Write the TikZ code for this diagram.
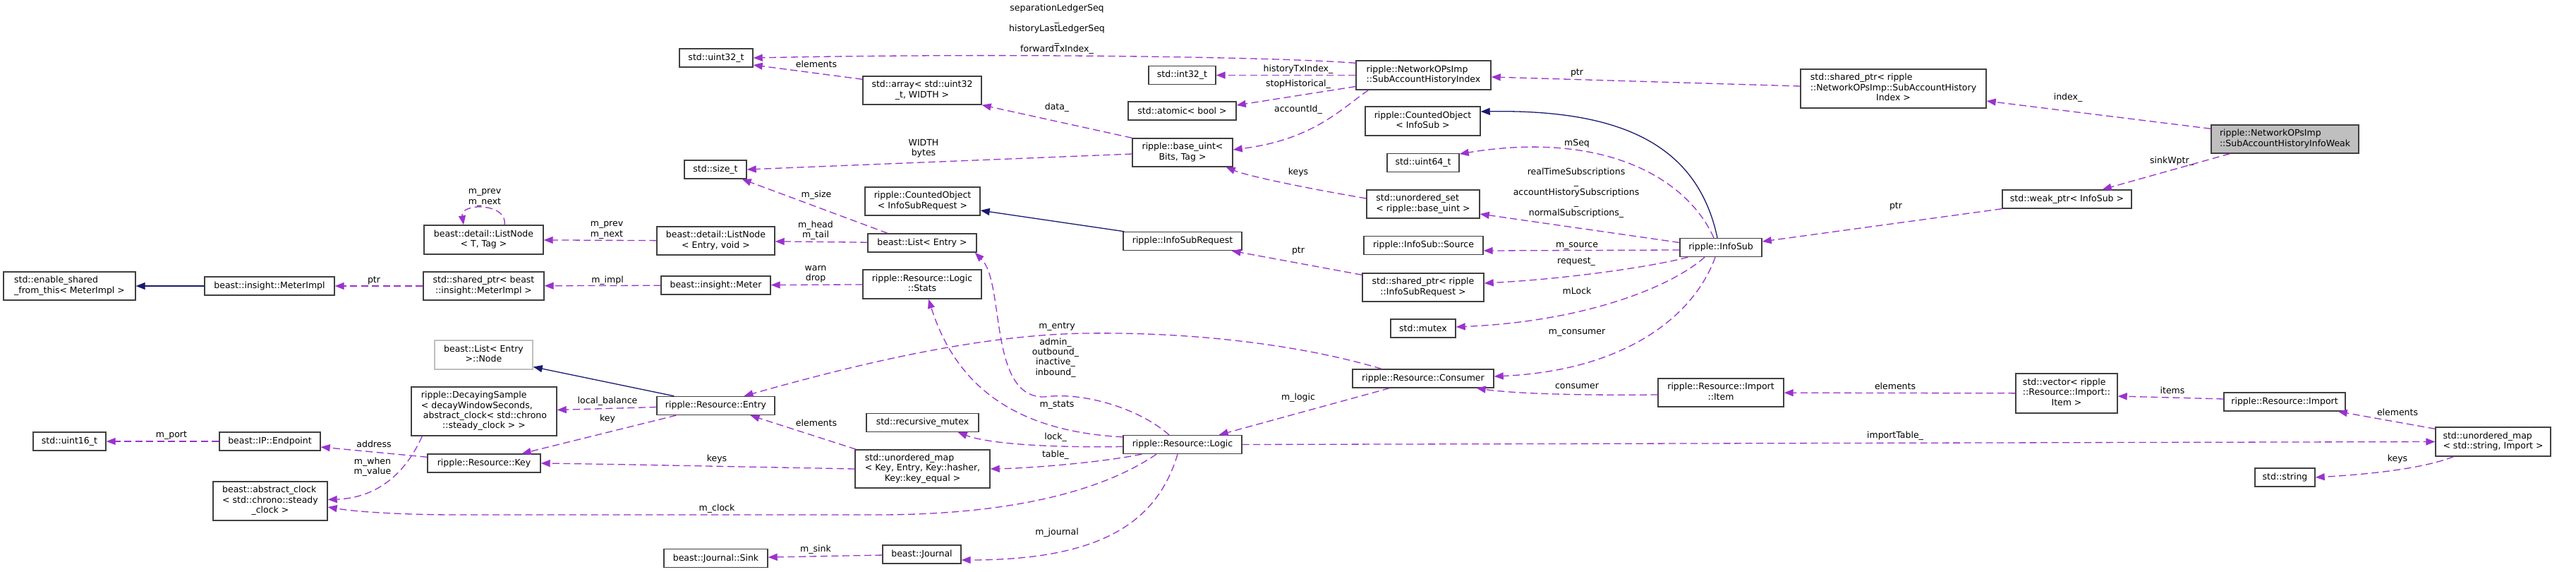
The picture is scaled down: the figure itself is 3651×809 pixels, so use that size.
\documentclass[tikz,border=0pt]{standalone}
\usepackage{fontspec}
\setmainfont{DejaVu Sans}
\usetikzlibrary{arrows.meta,calc}
\definecolor{epurple}{HTML}{9A32CD}
\definecolor{eblue}{HTML}{191970}
\definecolor{bgray}{HTML}{404040}
\definecolor{lgray}{HTML}{BFBFBF}
\newcommand{\fsz}{\fontsize{12.5pt}{14.4pt}\selectfont}
\newcommand{\mlines}[2]{\begin{tabular}{@{}l@{}}#1\\\multicolumn{1}{@{}c@{}}{#2}\end{tabular}}
\tikzset{
  box/.style={draw=bgray, line width=1.4pt, fill=white, inner xsep=4pt, inner ysep=2pt, font=\fsz},
  lbl/.style={font=\fsz, align=center, inner sep=0pt},
  mem/.style={draw=epurple, line width=1.3pt, dash pattern=on 10pt off 5.5pt, -{Triangle[length=13pt,width=10pt,fill=epurple]}},
  inh/.style={draw=eblue, line width=1.3pt, -{Triangle[length=13pt,width=10pt,fill=eblue]}}
}
\begin{document}
\begin{tikzpicture}[x=1pt,y=-1pt]
\useasboundingbox (0,0) rectangle (3651,809);
% ---------------- nodes ----------------
\node[box, minimum width=187pt, minimum height=40pt] (esft) at (98.5,405) {\mlines{std::enable\_shared}{\_from\_this< MeterImpl >}};
\node[box, minimum width=184pt, minimum height=26pt] (meterimpl) at (382,405) {beast::insight::MeterImpl};
\node[box, minimum width=169pt, minimum height=41pt] (lnT) at (685.5,339.5) {\mlines{beast::detail::ListNode}{< T, Tag >}};
\node[box, minimum width=171pt, minimum height=40pt] (spMI) at (685.5,405) {\mlines{std::shared\_ptr< beast}{::insight::MeterImpl >}};
\node[box, draw=lgray, minimum width=139pt, minimum height=41pt] (lnode) at (685.5,502.5) {\mlines{beast::List< Entry}{>::Node}};
\node[box, minimum width=206pt, minimum height=69pt] (decay) at (686,582.5) {\mlines{ripple::DecayingSample\\< decayWindowSeconds,\\\hspace*{3pt}abstract\_clock< std::chrono}{::steady\_clock > >}};
\node[box, minimum width=103pt, minimum height=26pt] (u16) at (98.5,625) {std::uint16\_t};
\node[box, minimum width=143pt, minimum height=26pt] (endpoint) at (382.5,625) {beast::IP::Endpoint};
\node[box, minimum width=160pt, minimum height=26pt] (key) at (686,656) {ripple::Resource::Key};
\node[box, minimum width=162pt, minimum height=55pt] (aclock) at (383,709.5) {\mlines{beast::abstract\_clock\\< std::chrono::steady}{\_clock >}};
\node[box, minimum width=104pt, minimum height=26pt] (u32) at (1015,82) {std::uint32\_t};
\node[box, minimum width=168pt, minimum height=40pt] (array) at (1307,128) {\mlines{std::array< std::uint32}{\_t, WIDTH >}};
\node[box, minimum width=95pt, minimum height=26pt] (i32) at (1675.5,106.5) {std::int32\_t};
\node[box, minimum width=153pt, minimum height=26pt] (atomic) at (1675.5,157) {std::atomic< bool >};
\node[box, minimum width=142pt, minimum height=40pt] (baseuint) at (1676,216) {\mlines{ripple::base\_uint<}{Bits, Tag >}};
\node[box, minimum width=88pt, minimum height=26pt] (sizet) at (1014,240) {std::size\_t};
\node[box, minimum width=163pt, minimum height=40pt] (coIS) at (1307.5,285) {\mlines{ripple::CountedObject}{< InfoSubRequest >}};
\node[box, minimum width=167pt, minimum height=40pt] (lnE) at (1014.5,341) {\mlines{beast::detail::ListNode}{< Entry, void >}};
\node[box, minimum width=154pt, minimum height=26pt] (list) at (1307,344) {beast::List< Entry >};
\node[box, minimum width=168pt, minimum height=26pt] (isreq) at (1676,341.5) {ripple::InfoSubRequest};
\node[box, minimum width=155pt, minimum height=26pt] (meter) at (1014.5,404) {beast::insight::Meter};
\node[box, minimum width=168pt, minimum height=41pt] (stats) at (1307,402.5) {\mlines{ripple::Resource::Logic}{::Stats}};
\node[box, minimum width=167pt, minimum height=26pt] (entry) at (1014.5,574.5) {ripple::Resource::Entry};
\node[box, minimum width=159pt, minimum height=26pt] (rmutex) at (1307.5,598.5) {std::recursive\_mutex};
\node[box, minimum width=168pt, minimum height=26pt] (logic) at (1676,629.5) {ripple::Resource::Logic};
\node[box, minimum width=191pt, minimum height=54pt] (umapK) at (1307.5,664) {\mlines{std::unordered\_map\\< Key, Entry, Key::hasher,}{Key::key\_equal >}};
\node[box, minimum width=147pt, minimum height=26pt] (sink) at (1014.5,790.5) {beast::Journal::Sink};
\node[box, minimum width=111pt, minimum height=26pt] (journal) at (1306.5,785) {beast::Journal};
\node[box, minimum width=191pt, minimum height=41pt] (sahi) at (2017.5,106.5) {\mlines{ripple::NetworkOPsImp}{::SubAccountHistoryIndex}};
\node[box, minimum width=263pt, minimum height=55pt] (spSAHI) at (2683.5,125.5) {\mlines{std::shared\_ptr< ripple\\::NetworkOPsImp::SubAccountHistory}{Index >}};
\node[box, minimum width=163pt, minimum height=41pt] (coInfoSub) at (2016.5,171.5) {\mlines{ripple::CountedObject}{< InfoSub >}};
\node[box, minimum width=102pt, minimum height=26pt] (u64) at (2017,230.5) {std::uint64\_t};
\node[box, minimum width=160pt, minimum height=40pt] (uset) at (2017,289) {\mlines{std::unordered\_set}{< ripple::base\_uint >}};
\node[box, minimum width=169pt, minimum height=26pt] (source) at (2017.5,347.5) {ripple::InfoSub::Source};
\node[box, minimum width=116pt, minimum height=26pt] (infosub) at (2439,350.5) {ripple::InfoSub};
\node[box, minimum width=172pt, minimum height=40pt] (spISR) at (2017,407) {\mlines{std::shared\_ptr< ripple}{::InfoSubRequest >}};
\node[box, minimum width=92pt, minimum height=26pt] (mutex) at (2017,465) {std::mutex};
\node[box, minimum width=200pt, minimum height=26pt] (consumer) at (2017,536) {ripple::Resource::Consumer};
\node[box, minimum width=178pt, minimum height=40pt] (item) at (2439,556) {\mlines{ripple::Resource::Import}{::Item}};
\node[box, fill=lgray, minimum width=209pt, minimum height=40pt] (infoweak) at (3238.5,197) {\mlines{ripple::NetworkOPsImp}{::SubAccountHistoryInfoWeak}};
\node[box, minimum width=183pt, minimum height=26pt] (weakptr) at (2929.5,282) {std::weak\_ptr< InfoSub >};
\node[box, minimum width=144pt, minimum height=56pt] (vector) at (2929,557) {\mlines{std::vector< ripple\\::Resource::Import::}{Item >}};
\node[box, minimum width=172pt, minimum height=26pt] (import) at (3238,569) {ripple::Resource::Import};
\node[box, minimum width=163pt, minimum height=41pt] (umapS) at (3533.5,625.5) {\mlines{std::unordered\_map}{< std::string, Import >}};
\node[box, minimum width=85pt, minimum height=26pt] (string) at (3238.5,676) {std::string};
% ---------------- labels ----------------
\node[lbl] (lptr1) at (530,397) {ptr};
\node[lbl] (lloop) at (687,280) {m\_prev\\m\_next};
\node[lbl] (lprev) at (860,326) {m\_prev\\m\_next};
\node[lbl] (limpl) at (861,397) {m\_impl};
\node[lbl] (lport) at (243,617) {m\_port};
\node[lbl] (laddr) at (530,629) {address};
\node[lbl] (lwhen) at (528,661) {m\_when\\m\_value};
\node[lbl] (llocal) at (861,568) {local\_balance};
\node[lbl] (lkey) at (861,593) {key};
\node[lbl] (lclock) at (1016,720) {m\_clock};
\node[lbl] (lkeys1) at (1016,650) {keys};
\node[lbl] (lseq) at (1498,41.5) {separationLedgerSeq\\\_\\historyLastLedgerSeq\\\_\\forwardTxIndex\_};
\node[lbl] (lelem1) at (1157,91) {elements};
\node[lbl] (ldata) at (1498,152) {data\_};
\node[lbl] (lwidth) at (1309,210.5) {WIDTH\\bytes};
\node[lbl] (lsize) at (1157,276) {m\_size};
\node[lbl] (lhead) at (1156,326) {m\_head\\m\_tail};
\node[lbl] (lwarn) at (1156,388) {warn\\drop};
\node[lbl] (lentry) at (1498,463) {m\_entry};
\node[lbl] (ladmin) at (1496,506.5) {admin\_\\outbound\_\\inactive\_\\inbound\_};
\node[lbl] (lstats) at (1498,574) {m\_stats};
\node[lbl] (lelem2) at (1157,599) {elements};
\node[lbl] (llock) at (1496,619) {lock\_};
\node[lbl] (ltable) at (1496,644) {table\_};
\node[lbl] (ljournal) at (1498,754) {m\_journal};
\node[lbl] (lsink) at (1156,778) {m\_sink};
\node[lbl] (lhist) at (1840,98) {historyTxIndex\_};
\node[lbl] (lstop) at (1840,119) {stopHistorical\_};
\node[lbl] (lacc) at (1840,155) {accountId\_};
\node[lbl] (lkeys2) at (1840,244) {keys};
\node[lbl] (lptr2) at (1840,355) {ptr};
\node[lbl] (llogic) at (1840,563) {m\_logic};
\node[lbl] (lptr3) at (2235,103) {ptr};
\node[lbl] (lmseq) at (2235,203) {mSeq};
\node[lbl] (lrt) at (2234,273) {realTimeSubscriptions\\\_\\accountHistorySubscriptions\\\_\\normalSubscriptions\_};
\node[lbl] (lsrc) at (2235,348) {m\_source};
\node[lbl] (lreq) at (2234,371) {request\_};
\node[lbl] (lmlock) at (2235,412) {mLock};
\node[lbl] (lcons1) at (2235,471) {m\_consumer};
\node[lbl] (lcons2) at (2235,547) {consumer};
\node[lbl] (limp) at (2686,617) {importTable\_};
\node[lbl] (lindex) at (2931,138) {index\_};
\node[lbl] (lsinkw) at (3078,228) {sinkWptr\_};
\node[lbl] (lptr4) at (2687,292) {ptr};
\node[lbl] (lelem3) at (2686,547) {elements};
\node[lbl] (litems) at (3079,553) {items};
\node[lbl] (lelem4) at (3398,584) {elements};
\node[lbl] (lkeys3) at (3398,650) {keys};
% ---------------- edges ----------------
\draw[inh] (meterimpl) -- (esft);
\draw[mem] (spMI) -- (meterimpl);
\draw[mem] ([xshift=29.5pt]lnT.north) .. controls (720,287) and (652,287) .. ([xshift=-28.5pt]lnT.north);
\draw[mem] (lnE) -- (lnT);
\draw[mem] (meter) -- (spMI);
\draw[mem] ([yshift=-4pt]sahi.north west) .. controls (1800,80) and (1400,75) .. (u32.east);
\draw[mem] ([yshift=-5pt]array.north west) -- ([yshift=-10pt]u32.east);
\draw[mem] (sahi) -- (i32);
\draw[mem] ([yshift=-16pt]sahi.west) -- ([yshift=8pt]atomic.east);
\draw[mem] ([xshift=18pt]sahi.south west) .. controls (1900,155) and (1860,198) .. ([yshift=4pt]baseuint.east);
\draw[mem] (baseuint.north west) -- (array.south east);
\draw[mem] ([yshift=-2pt]baseuint.west) -- (sizet.east);
\draw[mem] ([yshift=8pt]uset.west) .. controls (1860,268) and (1770,250) .. ([xshift=-10pt]baseuint.south east);
\draw[mem] ([xshift=-49pt]list.north) -- ([xshift=-7pt]sizet.south east);
\draw[mem] (list) -- (lnE);
\draw[inh] ([xshift=2pt]isreq.north west) -- ([yshift=-13pt]coIS.east);
\draw[mem] ([yshift=-3pt]spISR.north west) -- ([xshift=-15pt]isreq.south east);
\draw[mem] (stats) -- (meter);
\draw[mem] ([xshift=-19pt]logic.north) .. controls (1610,575) and (1530,555) .. (1481,562) .. controls (1400,565) and (1425,400) .. ([xshift=-3pt]list.south east);
\draw[mem] ([yshift=-3pt]logic.north west) .. controls (1420,610) and (1350,530) .. ([xshift=9pt]stats.south);
\draw[mem] ([xshift=-59pt]consumer.north) .. controls (1850,490) and (1700,470) .. (1540,472) .. controls (1380,474) and (1200,520) .. ([xshift=40pt]entry.north);
\draw[mem] ([yshift=-3pt]logic.west) .. controls (1480,634) and (1400,628) .. ([xshift=-30pt]rmutex.south east);
\draw[mem] ([xshift=27pt]logic.south west) .. controls (1560,655) and (1460,663) .. (umapK.east);
\draw[mem] ([xshift=-37pt]logic.south) .. controls (1570,690) and (1450,728) .. (1250,729) -- (650,729) .. controls (560,729) and (500,724) .. ([yshift=-8.5pt]aclock.east);
\draw[mem] ([xshift=-7pt]logic.south) .. controls (1640,740) and (1560,793) .. ([yshift=-8pt]journal.east);
\draw[mem] (journal) -- (sink);
\draw[mem] ([xshift=2pt]umapK.north west) -- ([xshift=49pt]entry.south);
\draw[mem] (umapK.west) .. controls (1000,660) and (850,657) .. (key.east);
\draw[inh] ([xshift=25pt]entry.north west) -- ([yshift=-17pt]lnode.east);
\draw[mem] ([yshift=-2pt]entry.west) -- ([yshift=2pt]decay.east);
\draw[mem] ([xshift=28pt]entry.south west) -- ([xshift=-27pt]key.north east);
\draw[mem] ([yshift=-5pt]key.north west) -- ([yshift=-8pt]endpoint.east);
\draw[mem] (endpoint) -- (u16);
\draw[mem] ([xshift=16pt]decay.south west) .. controls (575,670) and (535,705) .. ([yshift=2pt]aclock.east);
\draw[mem] ([yshift=3.5pt]spSAHI.west) -- ([yshift=-2.5pt]sahi.east);
\draw[mem] ([yshift=-6pt]infoweak.north west) -- ([yshift=-17.5pt]spSAHI.east);
\draw[mem] ([xshift=27pt]infoweak.south west) -- ([xshift=-42pt]weakptr.north east);
\draw[mem] (weakptr.south west) -- ([yshift=8.5pt]infosub.east);
\draw[inh] ([xshift=-5pt]infosub.north) .. controls (2405,200) and (2290,155) .. ([yshift=13.5pt]coInfoSub.east);
\draw[mem] ([xshift=-10pt]infosub.north) .. controls (2390,250) and (2270,185) .. ([yshift=12.5pt]u64.east);
\draw[mem] ([yshift=7pt]infosub.west) -- ([yshift=-14pt]uset.east);
\draw[mem] ([yshift=-3.5pt]infosub.west) -- ([yshift=-7.5pt]source.east);
\draw[mem] ([xshift=12pt]infosub.south west) .. controls (2340,378) and (2220,395) .. ([yshift=6pt]spISR.east);
\draw[mem] ([xshift=-23pt]infosub.south) .. controls (2370,405) and (2250,455) .. ([yshift=2pt]mutex.east);
\draw[mem] ([xshift=-8pt]infosub.south) .. controls (2400,450) and (2300,525) .. ([yshift=3pt]consumer.east);
\draw[mem] ([yshift=-3pt]item.west) .. controls (2250,560) and (2150,558) .. ([xshift=-25pt]consumer.south east);
\draw[mem] ([xshift=53pt]consumer.south west) -- ([xshift=-33pt]logic.north east);
\draw[mem] (vector) -- (item);
\draw[mem] ([yshift=4pt]import.west) -- ([yshift=-4pt]vector.east);
\draw[mem] ([yshift=-3pt]umapS.north west) -- ([xshift=-11pt]import.south east);
\draw[mem] (logic.east) -- (umapS.west);
\draw[mem] ([xshift=26pt]umapS.south west) .. controls (3430,665) and (3350,672) .. (string.east);
\end{tikzpicture}
\end{document}
